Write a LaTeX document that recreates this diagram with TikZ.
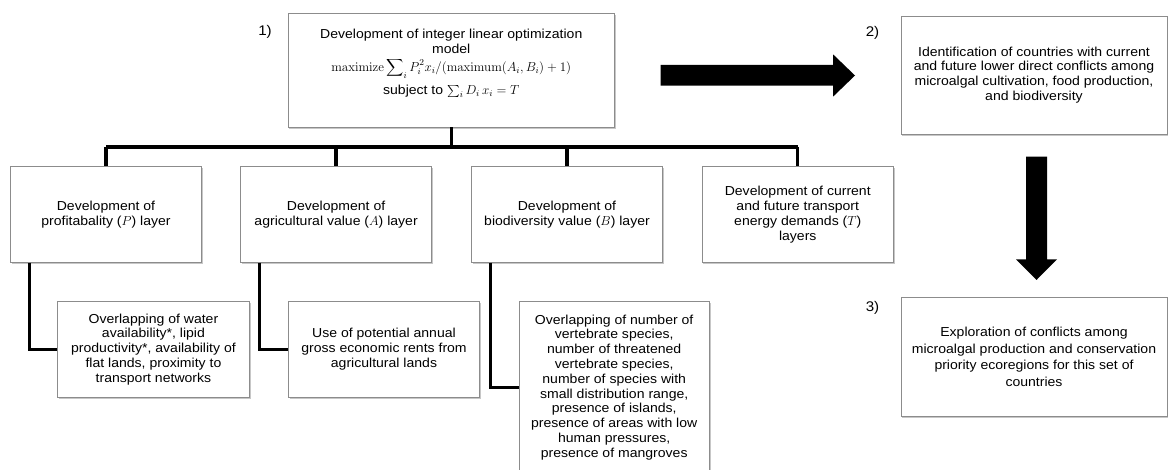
\RequirePackage{fix-cm}
\documentclass[tikz,border=0pt]{standalone}
\usepackage{amsmath}
\usepackage[no-math]{fontspec}
\setmainfont{Liberation Sans}[FakeStretch=1.08]
\usetikzlibrary{shadows,calc}
\definecolor{boxgray}{RGB}{140,140,140}
\tikzset{
  box/.style={draw=boxgray, line width=0.8pt, fill=white, align=center,
    inner sep=2pt, font=\fontsize{13}{14.8}\selectfont,
    drop shadow={shadow xshift=1.2pt, shadow yshift=-1.6pt, fill=black, opacity=0.22}},
  link/.style={line width=3.3pt, black},
  tag/.style={font=\fontsize{14}{16}\selectfont, inner sep=0pt},
  blockarrow/.style={fill=black}
}
\begin{document}
\begin{tikzpicture}[x=1pt,y=-1pt]
\useasboundingbox (0,0) rectangle (1168,470);

% step 1: the optimization model
\node[box, minimum width=326.5pt, minimum height=114pt] (model) at (451.25,70) {};
\node[inner sep=0pt, align=center, font=\fontsize{13}{14.8}\selectfont] (modeltext) at (451.25,63.5)
  {Development of integer linear optimization\\model\\[3pt]
   $\mathrm{maximize}\displaystyle\sum\nolimits_i P_i^2 x_i/(\mathrm{maximum}(A_i,B_i)+1)$\\[6pt]
   subject to $\sum_i D_i\, x_i = T$};
\node[tag] (n1) at (265,32) {1)};

% input layers
\node[box, minimum width=191.4pt, minimum height=95.6pt] (L1) at (106,214.5)
  {Development of\\profitabality ($P$) layer};
\node[box, minimum width=191.2pt, minimum height=95.6pt] (L2) at (336.1,214.5)
  {Development of\\agricultural value ($A$) layer};
\node[box, minimum width=191.1pt, minimum height=95.6pt] (L3) at (567,214.5)
  {Development of\\biodiversity value ($B$) layer};
\node[box, minimum width=191.5pt, minimum height=95.6pt] (L4) at (797.75,214.5)
  {Development of current\\and future transport\\energy demands ($T$)\\layers};

% data behind each layer
\node[box, minimum width=192.1pt, minimum height=95.8pt] (S1) at (153.45,349.4)
  {Overlapping of water\\availability*, lipid\\productivity*, availability of\\flat lands, proximity to\\transport networks};
\node[box, minimum width=191pt, minimum height=95.8pt] (S2) at (384,349.4)
  {Use of potential annual\\gross economic rents from\\agricultural lands};
\node[box, minimum width=190.4pt, minimum height=171.5pt] (S3) at (614.2,387.25)
  {Overlapping of number of\\vertebrate species,\\number of threatened\\vertebrate species,\\number of species with\\small distribution range,\\presence of islands,\\presence of areas with low\\human pressures,\\presence of mangroves};

% steps 2 and 3
\node[box, minimum width=266pt, minimum height=118pt] (ident) at (1034,75)
  {Identification of countries with current\\and future lower direct conflicts among\\microalgal cultivation, food production,\\and biodiversity};
\node[tag] (n2) at (872.5,33) {2)};
\node[box, minimum width=266pt, minimum height=118.3pt, font=\fontsize{13}{16.5}\selectfont] (explore) at (1034,356.85)
  {Exploration of conflicts among\\microalgal production and conservation\\priority ecoregions for this set of\\countries};
\node[tag] (n3) at (872.5,308) {3)};

% tree connectors
\coordinate (bus) at (0,147);
\draw[link] (model.south) -- (model.south |- bus);
\draw[link] (L1.north |- bus) -- (L4.north |- bus);
\foreach \n in {L1,L2,L3,L4}
  \draw[link] (\n.north |- bus) -- (\n.north);
\draw[link] ($(L1.south west)+(19.5,0)$) |- (S1.west);
\draw[link] ($(L2.south west)+(19.5,0)$) |- (S2.west);
\draw[link] ($(L3.south west)+(19.5,0)$) |- (S3.west);

% block arrows between the steps
\fill[blockarrow] (660.6,65) -- (833,65) -- (833,54.3) -- (855,75.5)
  -- (833,96.7) -- (833,85.7) -- (660.6,85.7) -- cycle;
\fill[blockarrow] (1026,156.7) -- (1047,156.7) -- (1047,259.3) -- (1057,259.3)
  -- (1036.5,280) -- (1016,259.3) -- (1026,259.3) -- cycle;
\end{tikzpicture}
\end{document}
